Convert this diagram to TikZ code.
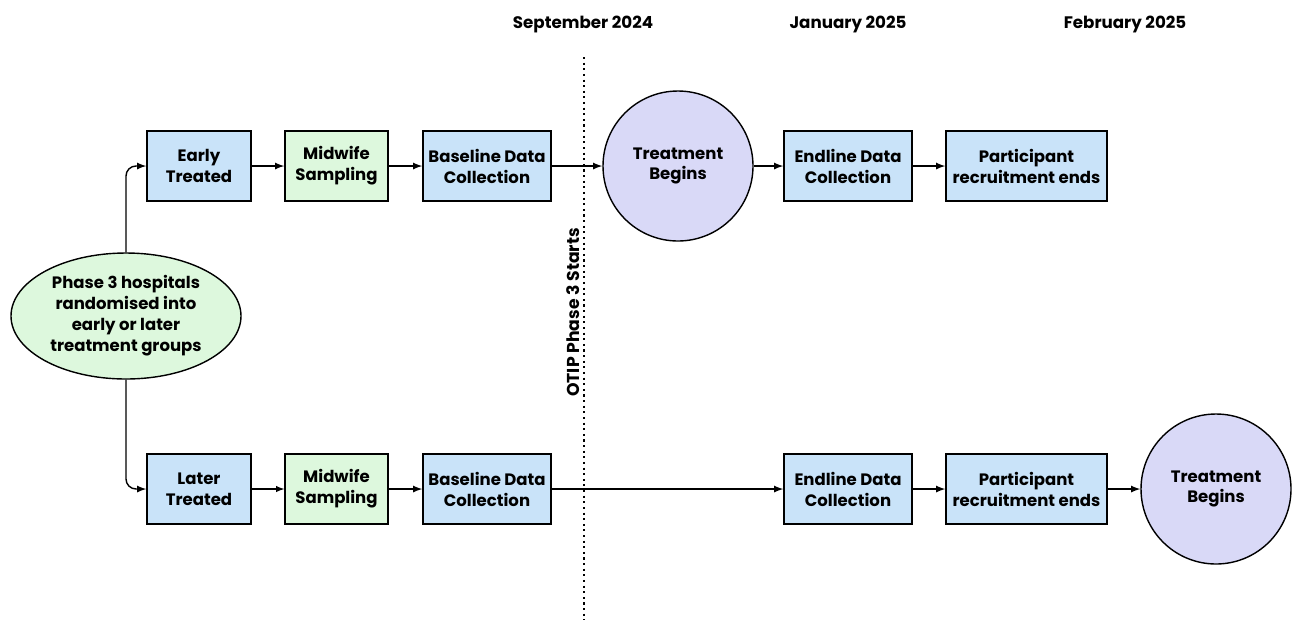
\documentclass[tikz,border=0pt]{standalone}
\usepackage{fontspec}
\setmainfont{Poppins}
\usetikzlibrary{arrows,shapes.geometric}
\definecolor{bxblue}{RGB}{201,227,249}
\definecolor{bxgreen}{RGB}{221,248,221}
\definecolor{bxpurple}{RGB}{217,217,247}
\newcommand{\bxfont}{\fontsize{9.4}{11.9}\selectfont\bfseries}
\tikzset{bx/.append style={draw,thick,fill=bxblue,minimum height=1.4cm,align=center,font=\bxfont,inner sep=0.05cm}}
\tikzset{gr/.append style={fill=bxgreen}}
\tikzset{cc/.append style={draw,thick,circle,fill=bxpurple,minimum size=3cm,align=center,font=\bxfont}}
\tikzset{lk/.append style={thick,-latex}}
\tikzset{dt/.append style={font=\fontsize{9.5}{11}\selectfont\bfseries}}

\begin{document}
\begin{tikzpicture}
                \useasboundingbox (0,0) rectangle (25.84,-12.4);
                % dates
                \node[dt] (sep) at (11.66,-0.48) {September 2024};
                \node[dt] (jan) at (16.96,-0.48) {January 2025};
                \node[dt] (feb) at (22.5,-0.48) {February 2025};
                % phase 3 line
                \coordinate (dtop) at (11.68,-1.14);
                \coordinate (dbot) at (11.68,-12.4);
                \draw[very thick,dotted] (dtop) -- (dbot);
                \node[rotate=90,font=\fontsize{9.8}{11}\selectfont\bfseries] (otip) at (11.46,-6.25) {OTIP Phase 3 Starts};
                % start
                \node[draw,thick,ellipse,fill=bxgreen,minimum width=4.6cm,minimum height=2.52cm,inner sep=0,align=center,font=\bxfont] (ph) at (2.52,-6.32) {Phase 3 hospitals\\randomised into\\early or later\\treatment groups};
                % early row
                \node[bx,minimum width=2.08cm] (et) at (3.98,-3.32) {Early\\Treated};
                \node[bx,gr,minimum width=2.06cm] (ms1) at (6.73,-3.32) {Midwife\\Sampling};
                \node[bx,minimum width=2.56cm] (bd1) at (9.74,-3.32) {Baseline Data\\Collection};
                \node[cc] (tb1) at (13.56,-3.32) {Treatment\\Begins};
                \node[bx,minimum width=2.56cm] (ed1) at (16.96,-3.32) {Endline Data\\Collection};
                \node[bx,minimum width=3.22cm] (pr1) at (20.53,-3.32) {Participant\\recruitment ends};
                % later row
                \node[bx,minimum width=2.08cm] (lt) at (3.98,-9.78) {Later\\Treated};
                \node[bx,gr,minimum width=2.06cm] (ms2) at (6.73,-9.78) {Midwife\\Sampling};
                \node[bx,minimum width=2.56cm] (bd2) at (9.74,-9.78) {Baseline Data\\Collection};
                \node[bx,minimum width=2.56cm] (ed2) at (16.96,-9.78) {Endline Data\\Collection};
                \node[bx,minimum width=3.22cm] (pr2) at (20.53,-9.78) {Participant\\recruitment ends};
                \node[cc] (tb2) at (24.32,-9.78) {Treatment\\Begins};
                % links
                \draw[lk,rounded corners=0.2cm] (ph.north) |- (et.west);
                \draw[lk,rounded corners=0.2cm] (ph.south) |- (lt.west);
                \path (et) edge[lk] (ms1);
                \path (ms1) edge[lk] (bd1);
                \path (bd1) edge[lk] (tb1);
                \path (tb1) edge[lk] (ed1);
                \path (ed1) edge[lk] (pr1);
                \path (lt) edge[semithick,-latex] (ms2);
                \path (ms2) edge[lk] (bd2);
                \path (bd2) edge[lk] (ed2);
                \path (ed2) edge[lk] (pr2);
                \path (pr2) edge[lk] (tb2);
            \end{tikzpicture}
\end{document}
